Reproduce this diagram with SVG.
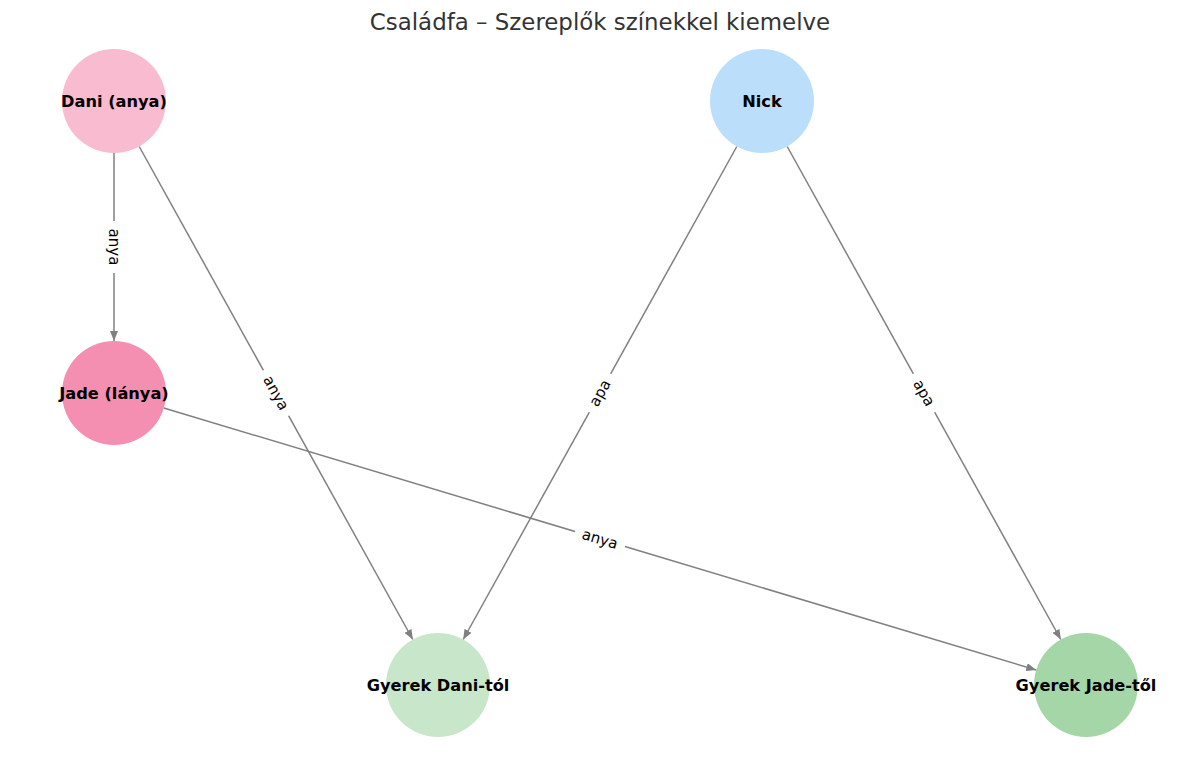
<svg xmlns="http://www.w3.org/2000/svg" width="1200" height="758" viewBox="0 0 1200 758">
<defs>
<style>
.node-label{font-family:"DejaVu Sans",sans-serif;font-weight:bold;font-size:16.2px;fill:#000;text-anchor:middle;dominant-baseline:central}
.edge{stroke:#808080;stroke-width:1.5;fill:none;marker-end:url(#arr)}
.elabel{font-family:"DejaVu Sans",sans-serif;font-size:15px;fill:#000;text-anchor:middle;dominant-baseline:central}
.lbg{fill:#fff}
.title{font-family:"DejaVu Sans",sans-serif;font-size:22.9px;fill:#333;text-anchor:middle}
</style>
<marker id="arr" viewBox="0 0 10 8" refX="10" refY="4" markerWidth="10" markerHeight="8" markerUnits="userSpaceOnUse" orient="auto">
<path d="M0,0 L10,4 L0,8 Z" fill="#808080"/>
</marker>
</defs>
<rect width="1200" height="758" fill="#fff"/>
<text class="title" x="600" y="30">Családfa – Szereplők színekkel kiemelve</text>
<g id="connectors">
<line class="edge" x1="114" y1="153" x2="114" y2="341"/>
<line class="edge" x1="139.2" y1="146.5" x2="412.8" y2="639.5"/>
<line class="edge" x1="163.8" y1="408" x2="1036.2" y2="670"/>
<line class="edge" x1="736.8" y1="146.5" x2="463.2" y2="639.5"/>
<line class="edge" x1="787.2" y1="146.5" x2="1060.8" y2="639.5"/>
<g transform="translate(114,247) rotate(90)"><rect class="lbg" x="-26" y="-10" width="52" height="20"/><text class="elabel" x="0" y="0">anya</text></g>
<g transform="translate(276,393) rotate(61)"><rect class="lbg" x="-26" y="-10" width="52" height="20"/><text class="elabel" x="0" y="0">anya</text></g>
<g transform="translate(600,539) rotate(16.7)"><rect class="lbg" x="-26" y="-10" width="52" height="20"/><text class="elabel" x="0" y="0">anya</text></g>
<g transform="translate(600,393) rotate(-61)"><rect class="lbg" x="-22" y="-10" width="44" height="20"/><text class="elabel" x="0" y="0">apa</text></g>
<g transform="translate(924,393) rotate(61)"><rect class="lbg" x="-22" y="-10" width="44" height="20"/><text class="elabel" x="0" y="0">apa</text></g>
</g>
<g id="node-dani"><circle cx="114" cy="101" r="52" fill="#f8bbd0"/><text class="node-label" x="114" y="101">Dani (anya)</text></g>
<g id="node-jade"><circle cx="114" cy="393" r="52" fill="#f48fb1"/><text class="node-label" x="114" y="393">Jade (lánya)</text></g>
<g id="node-nick"><circle cx="762" cy="101" r="52" fill="#bbdefb"/><text class="node-label" x="762" y="101">Nick</text></g>
<g id="node-gyerek-dani"><circle cx="438" cy="685" r="52" fill="#c8e6c9"/><text class="node-label" x="438" y="685">Gyerek Dani-tól</text></g>
<g id="node-gyerek-jade"><circle cx="1086" cy="685" r="52" fill="#a5d6a7"/><text class="node-label" x="1086" y="685">Gyerek Jade-től</text></g>
</svg>
